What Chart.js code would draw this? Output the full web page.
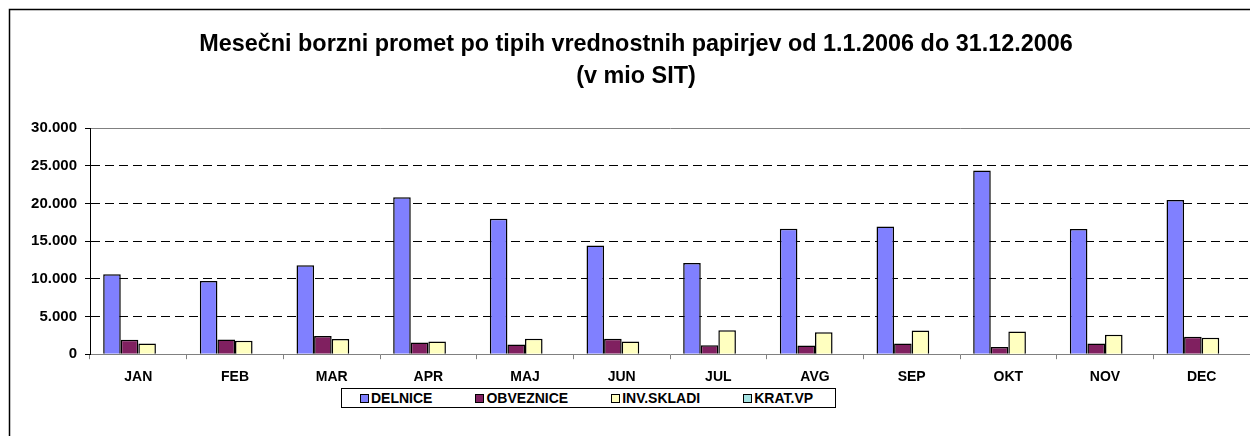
<!DOCTYPE html>
<html>
<head>
<meta charset="utf-8">
<script src="https://cdn.jsdelivr.net/npm/chart.js@4.4.1/dist/chart.umd.min.js"></script>
<style>
  html, body { margin: 0; padding: 0; background: #fff; }
  #wrap { position: relative; width: 1250px; height: 436px; overflow: hidden; }
  #legend {
    position: absolute; left: 341px; top: 388px; width: 495px; height: 20px;
    border: 1px solid #000; background: #fff;
    display: flex; align-items: center; gap: 43px; padding-left: 18px; box-sizing: border-box;
    font: bold 14px Arial, "Liberation Sans", sans-serif; color: #000;
  }
  #legend .item { display: flex; align-items: center; white-space: nowrap; }
  #legend .sw { width: 7px; height: 7px; border: 1px solid #000; margin-right: 2px; }
</style>
</head>
<body>
<div id="wrap">
  <canvas id="chart" width="1250" height="436"></canvas>
  <div id="legend"></div>
</div>
<script>
// monthly turnover by security type, mio SIT
const months = ['JAN', 'FEB', 'MAR', 'APR', 'MAJ', 'JUN', 'JUL', 'AVG', 'SEP', 'OKT', 'NOV', 'DEC'];
const delnice = [10600, 9700, 11800, 20800, 17950, 14400, 12100, 16650, 16950, 24350, 16600, 20450];
const obveznice = [1900, 1950, 2430, 1550, 1300, 2050, 1200, 1150, 1420, 950, 1420, 2300];
const invSkladi = [1420, 1800, 2000, 1680, 2040, 1680, 3180, 2920, 3140, 3000, 2570, 2170];
const kratVp = [0, 0, 0, 0, 0, 0, 0, 0, 0, 0, 0, 0];

const seriesNames = ['DELNICE', 'OBVEZNICE', 'INV.SKLADI', 'KRAT.VP'];
const seriesColors = ['#8080FF', '#802060', '#FFFFC0', '#A6E3E3'];
const titleLines = ['Mesečni borzni promet po tipih vrednostnih papirjev od 1.1.2006 do 31.12.2006', '(v mio SIT)'];

const FONT = 'Arial, "Liberation Sans", sans-serif';

const frame = {
  id: 'frame',
  beforeDraw(chart) {
    const ctx = chart.ctx;
    ctx.save();
    ctx.strokeStyle = '#000';
    ctx.lineWidth = 1.5;
    ctx.strokeRect(9.5, 9.5, 1400, 600);
    ctx.restore();
  }
};

function fmt(v) {
  return String(v).replace(/\B(?=(\d{3})+(?!\d))/g, '.');
}

const values = [delnice, obveznice, invSkladi, kratVp];

new Chart(document.getElementById('chart').getContext('2d'), {
  type: 'bar',
  data: {
    labels: months,
    datasets: seriesNames.map((name, i) => ({
      label: name,
      data: values[i],
      backgroundColor: seriesColors[i],
      borderColor: '#000',
      borderWidth: 1.5,
      borderSkipped: 'bottom',
      categoryPercentage: 4 / 5.5,
      barPercentage: 1
    }))
  },
  options: {
    responsive: false,
    animation: false,
    layout: { padding: { top: 21, left: 22, right: 0, bottom: 40 } },
    plugins: {
      legend: { display: false },
      tooltip: { enabled: false },
      title: {
        display: true,
        text: titleLines,
        color: '#000',
        font: { family: FONT, size: 23.4, weight: 'bold', lineHeight: '32px' },
        padding: { top: 8, bottom: 35 }
      }
    },
    scales: {
      x: {
        grid: { drawOnChartArea: false, color: '#808080', tickLength: 5, offset: true },
        border: { color: '#808080', width: 1 },
        ticks: { color: '#000', padding: 10, font: { family: FONT, size: 14, weight: 'bold' } }
      },
      y: {
        min: 0,
        max: 30000,
        afterFit: s => { s.width = 68; },
        ticks: {
          stepSize: 5000,
          color: '#000',
          padding: 8,
          font: { family: FONT, size: 15, weight: 'bold' },
          callback: v => fmt(v)
        },
        grid: {
          color: c => c.tick && c.tick.value === 30000 ? '#808080' : (c.tick && c.tick.value === 0 ? 'rgba(0,0,0,0)' : '#000'),
          tickColor: '#000',
          tickLength: 5,
          tickBorderDash: []
        },
        border: {
          color: '#000',
          width: 1,
          dash: c => c.tick && c.tick.value === 30000 ? [] : [9, 5]
        }
      }
    }
  },
  plugins: [frame]
});

const legend = document.getElementById('legend');
seriesNames.forEach((name, i) => {
  const item = document.createElement('div');
  item.className = 'item';
  const sw = document.createElement('span');
  sw.className = 'sw';
  sw.style.background = seriesColors[i];
  const txt = document.createElement('span');
  txt.textContent = name;
  item.appendChild(sw);
  item.appendChild(txt);
  legend.appendChild(item);
});
</script>
</body>
</html>
